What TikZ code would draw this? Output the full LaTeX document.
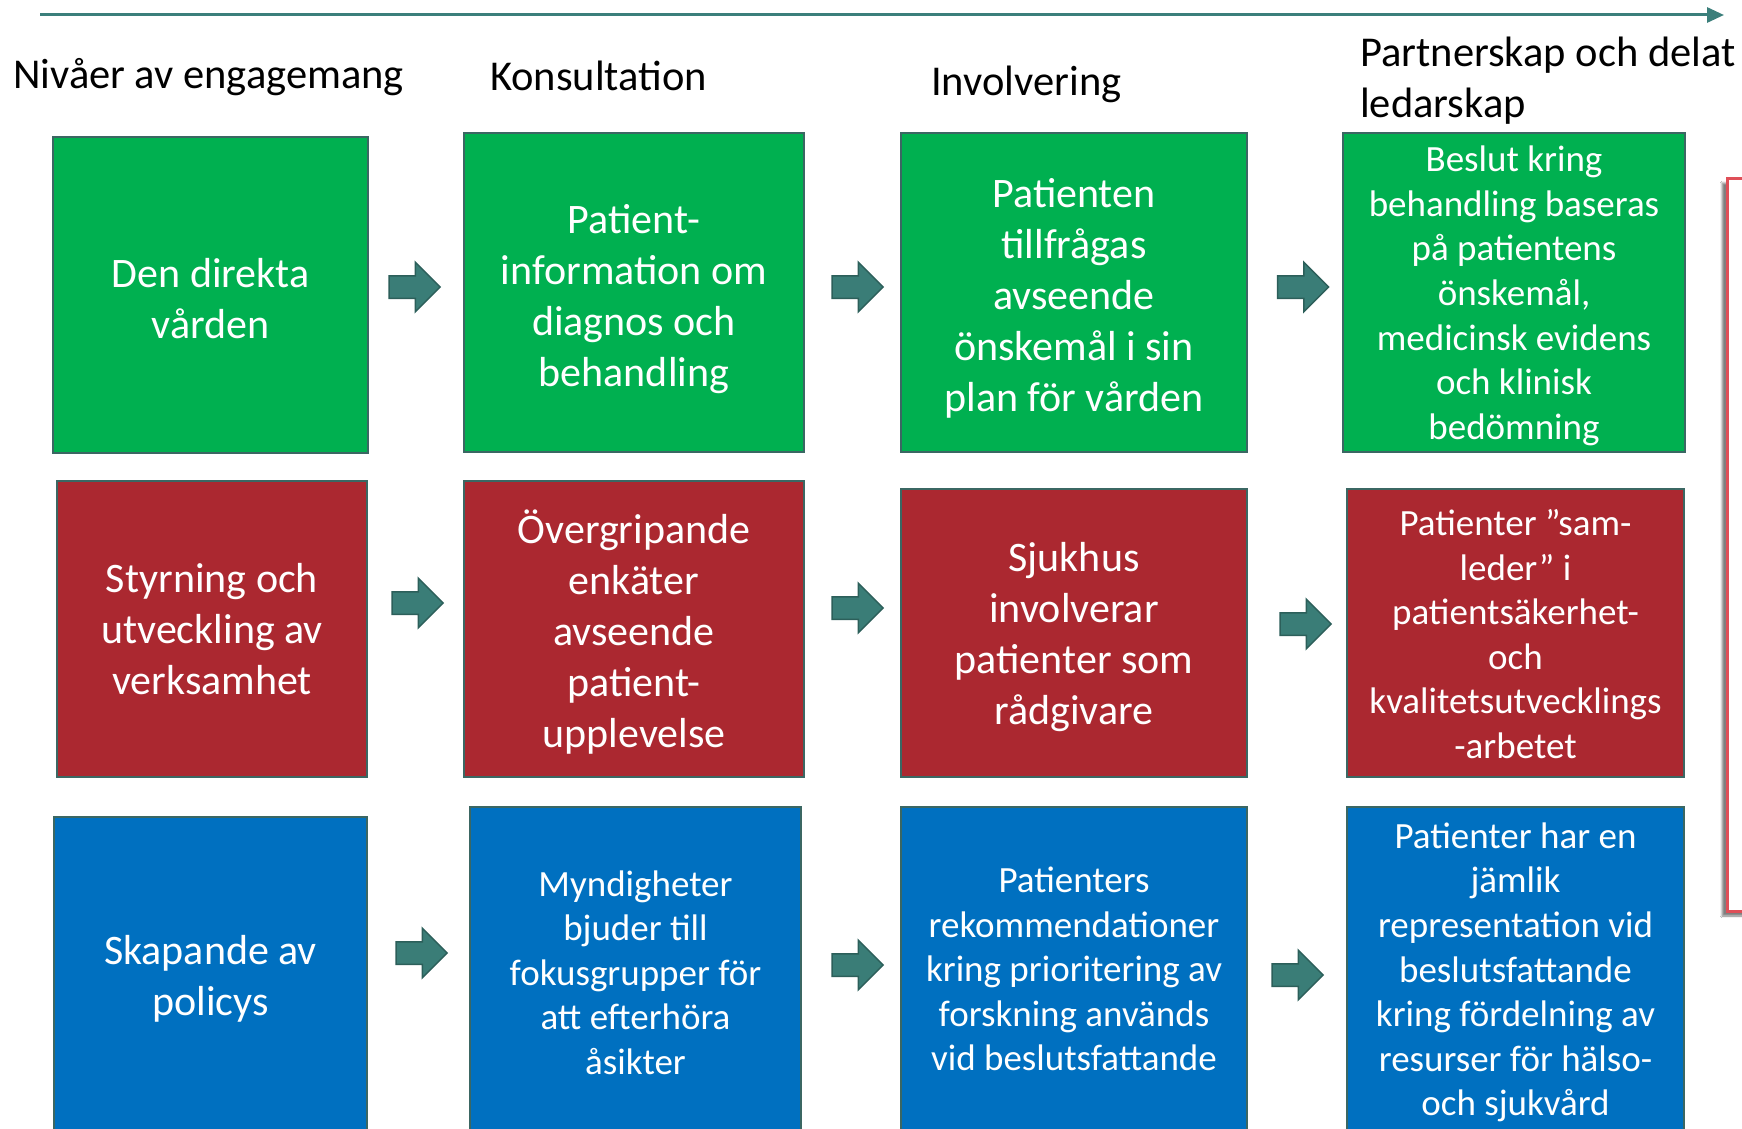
\documentclass[tikz,border=0pt]{standalone}
\usepackage{fontspec}
\setmainfont{Carlito}
\usetikzlibrary{shapes.arrows,arrows.meta,shadows.blur}
\definecolor{gboxc}{HTML}{00B050}
\definecolor{rboxc}{HTML}{AB2830}
\definecolor{bboxc}{HTML}{0070C0}
\definecolor{bordc}{HTML}{3B6763}
\definecolor{arrf}{HTML}{3A7D77}
\definecolor{arrd}{HTML}{2C5F5A}
\definecolor{topc}{HTML}{3B7F7B}
\definecolor{redline}{HTML}{DF4F58}
\begin{document}
\begin{tikzpicture}[x=1pt,y=-1pt,
  box/.style={draw=bordc, line width=2pt, inner sep=0pt},
  gbox/.style={box, fill=gboxc},
  rbox/.style={box, fill=rboxc},
  bbox/.style={box, fill=bboxc},
  txt/.style={inner sep=0pt, align=center, text=white},
  big/.style={txt, font=\fontsize{42}{51}\selectfont},
  small/.style={txt, font=\fontsize{37}{44.6}\selectfont},
  head/.style={anchor=west, inner sep=0pt, align=left, font=\fontsize{42.5}{51}\selectfont},
  barrow/.style={single arrow, fill=arrf, draw=arrd, line width=1.5pt,
    inner xsep=0pt, inner ysep=10.5pt, minimum height=51pt,
    single arrow head extend=13.5pt, single arrow tip angle=90}
]
\useasboundingbox (0,0) rectangle (1742,1129);
\clip (0,0) rectangle (1742,1129);
\fill[white] (0,0) rectangle (1742,1129);

% top axis arrow
\coordinate (ts) at (40,15);
\coordinate (te) at (1724,15);
\draw[topc, line width=3pt, -{Triangle[length=17pt,width=15pt]}] (ts) -- (te);

% headers
\node[head] (h1) at (13,77.5) {Nivåer av engagemang};
\node[head] (h2) at (490,76) {Konsultation};
\node[head] (h3) at (931,84.5) {Involvering};
\node[head] (h4) at (1360,81) {Partnerskap och delat\\ledarskap};

% row 1
\node[gbox, minimum width=315, minimum height=316] (a1) at (210.5,295) {};
\node[big] (a1t) at ([yshift=-3.3pt]a1.center) {Den direkta\\vården};
\node[gbox, minimum width=340, minimum height=319] (b1) at (634,292.5) {};
\node[big] (b1t) at ([yshift=-6.7pt]b1.center) {Patient-\\information om\\diagnos och\\behandling};
\node[gbox, minimum width=346, minimum height=319] (c1) at (1074,292.5) {};
\node[big] (c1t) at ([yshift=-5.5pt]c1.center) {Patienten\\tillfrågas\\avseende\\önskemål i sin\\plan för vården};
\node[gbox, minimum width=342, minimum height=319] (d1) at (1514,292.5) {};
\node[small] (d1t) at ([yshift=-3.3pt]d1.center) {Beslut kring\\behandling baseras\\på patientens\\önskemål,\\medicinsk evidens\\och klinisk\\bedömning};

% row 2
\node[rbox, minimum width=310, minimum height=296] (a2) at (212,629) {};
\node[big] (a2t) at (a2.center) {Styrning och\\utveckling av\\verksamhet};
\node[rbox, minimum width=340, minimum height=296] (b2) at (634,629) {};
\node[big] (b2t) at ([yshift=-3.3pt]b2.center) {Övergripande\\enkäter\\avseende\\patient-\\upplevelse};
\node[rbox, minimum width=346, minimum height=288] (c2) at (1074,633) {};
\node[big] (c2t) at ([yshift=-4.4pt]c2.center) {Sjukhus\\involverar\\patienter som\\rådgivare};
\node[rbox, minimum width=337, minimum height=288] (d2) at (1515.5,633) {};
\node[small] (d2t) at ([yshift=-1pt]d2.center) {Patienter ”sam-\\leder” i\\patientsäkerhet-\\och\\kvalitetsutvecklings\\-arbetet};

% row 3
\node[bbox, minimum width=313, minimum height=323] (a3) at (210.5,978.5) {};
\node[big] (a3t) at (a3.center) {Skapande av\\policys};
\node[bbox, minimum width=331, minimum height=333] (b3) at (635.5,973.5) {};
\node[small] (b3t) at ([yshift=1pt]b3.center) {Myndigheter\\bjuder till\\fokusgrupper för\\att efterhöra\\åsikter};
\node[bbox, minimum width=346, minimum height=333] (c3) at (1074,973.5) {};
\node[small] (c3t) at ([yshift=4.4pt]c3.center) {Patienters\\rekommendationer\\kring prioritering av\\forskning används\\vid beslutsfattande};
\node[bbox, minimum width=337, minimum height=333] (d3) at (1515.5,973.5) {};
\node[small] (d3t) at ([yshift=1pt]d3.center) {Patienter har en\\jämlik\\representation vid\\beslutsfattande\\kring fördelning av\\resurser för hälso-\\och sjukvård};

% block arrows
\node[barrow] (ar11) at (409,287) {};
\node[barrow] (ar12) at (852,287) {};
\node[barrow] (ar13) at (1297.5,287) {};
\node[barrow] (ar21) at (412,603) {};
\node[barrow] (ar22) at (852,608) {};
\node[barrow] (ar23) at (1300,624) {};
\node[barrow] (ar31) at (416,953) {};
\node[barrow] (ar32) at (852,965) {};
\node[barrow] (ar33) at (1292,975) {};

% red frame at right edge
\draw[redline, line width=3pt, fill=white,
  blur shadow={shadow xshift=-5pt, shadow yshift=-5pt, shadow opacity=50, shadow blur steps=6}]
  (1727,178) rectangle (1770,911);
\end{tikzpicture}
\end{document}
